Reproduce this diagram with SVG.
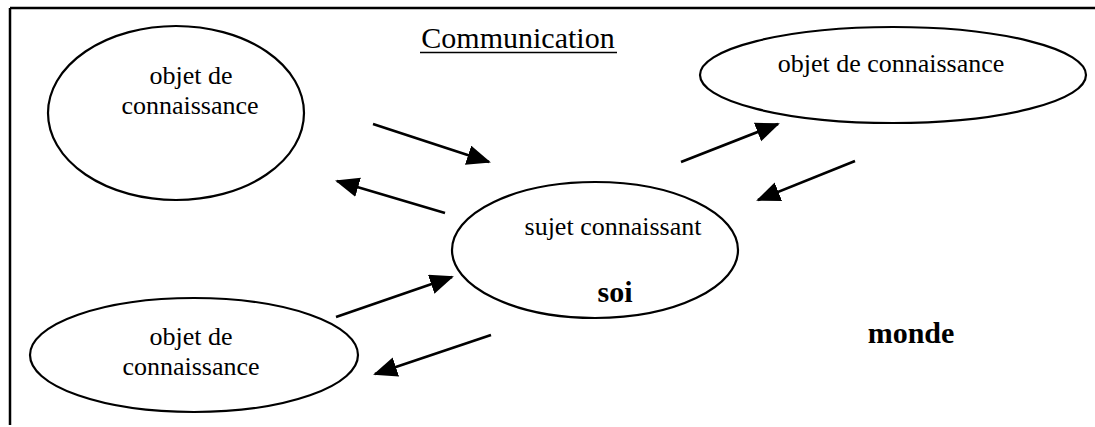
<svg xmlns="http://www.w3.org/2000/svg" width="1095" height="427" viewBox="0 0 1095 427">
<defs>
<style>
.node ellipse{fill:#fff;stroke:#000;stroke-width:2.2}
.t{font-family:"Liberation Serif","Times New Roman",serif;font-size:26px;fill:#000;text-anchor:middle}
.b{font-family:"Liberation Serif","Times New Roman",serif;font-size:30px;font-weight:bold;fill:#000;text-anchor:middle}
.conn line{stroke:#000;stroke-width:2.6;marker-end:url(#ah)}
</style>
<marker id="ah" markerUnits="userSpaceOnUse" markerWidth="26" markerHeight="22" refX="22" refY="10" orient="auto">
<path d="M0,0 L24,10 L0,20 Z" fill="#000"/>
</marker>
</defs>
<rect width="1095" height="427" fill="#fff"/>
<g id="frame" stroke="#000" stroke-width="2.5" fill="none">
<line x1="10" y1="8" x2="1095" y2="8"/>
<line x1="10" y1="8" x2="10" y2="425"/>
</g>
<g id="title">
<text class="t" x="518" y="48" style="font-size:30px">Communication</text>
<line x1="420" y1="52.5" x2="617" y2="52.5" stroke="#000" stroke-width="1.5"/>
</g>
<g id="obj-top-left" class="node">
<ellipse cx="176" cy="113" rx="128" ry="87"/>
<text class="t" x="191" y="84">objet de</text>
<text class="t" x="190" y="114">connaissance</text>
</g>
<g id="obj-top-right" class="node">
<ellipse cx="893" cy="75" rx="193" ry="48"/>
<text class="t" x="891" y="72">objet de connaissance</text>
</g>
<g id="sujet" class="node">
<ellipse cx="595" cy="250" rx="143" ry="68"/>
<text class="t" x="613" y="235">sujet connaissant</text>
<text class="b" x="615" y="302">soi</text>
</g>
<g id="obj-bottom-left" class="node">
<ellipse cx="194" cy="355" rx="164" ry="57"/>
<text class="t" x="191" y="345">objet de</text>
<text class="t" x="191" y="375">connaissance</text>
</g>
<g id="monde">
<text class="b" x="911" y="343">monde</text>
</g>
<g id="connectors" class="conn">
<line x1="373" y1="124" x2="489" y2="162"/>
<line x1="445" y1="213" x2="337" y2="181"/>
<line x1="681" y1="162" x2="778" y2="124"/>
<line x1="855" y1="161" x2="758" y2="200"/>
<line x1="336" y1="317" x2="452" y2="277"/>
<line x1="491" y1="335" x2="375" y2="374"/>
</g>
</svg>
